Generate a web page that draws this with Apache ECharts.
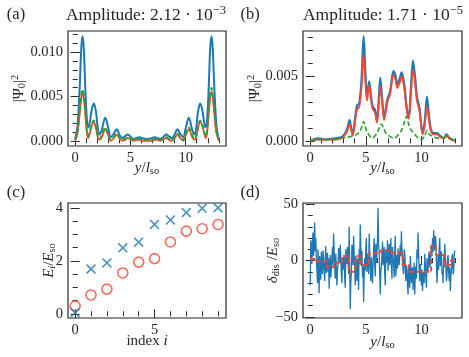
<!DOCTYPE html>
<html>
<head>
<meta charset="utf-8">
<script src="https://cdn.jsdelivr.net/npm/echarts@6/dist/echarts.min.js"></script>
<style>
  html, body { margin: 0; padding: 0; background: #fff; }
  #chart { width: 469px; height: 357px; }
</style>
</head>
<body>
<div id="chart"></div>
<script>
// ---- panel (a): |Psi_0|^2, weak disorder ----
var aX = [0, 0.2, 0.4, 0.55, 0.66, 0.78, 0.92, 1.05, 1.17, 1.3, 1.5, 1.69, 1.88, 2.05, 2.2, 2.4, 2.72, 3.0, 3.23, 3.5,
  3.75, 4.0, 4.25, 4.5, 4.77, 5.05, 5.3, 5.55, 5.8, 6.1, 6.5, 6.9, 7.2, 7.45, 7.7, 7.95, 8.23, 8.5, 8.75, 9.0,
  9.25, 9.5, 9.77, 10.0, 10.28, 10.6, 10.8, 10.95, 11.12, 11.31, 11.5, 11.7, 11.83, 11.95, 12.08, 12.22, 12.34, 12.45, 12.6, 12.8, 13];
var aBlue = [0.0002, 0.0015, 0.0058, 0.0104, 0.0118, 0.0104, 0.0058, 0.0026, 0.0015, 0.0019, 0.0035, 0.0042, 0.0033, 0.0014, 0.0007, 0.0012, 0.0026, 0.0014, 0.0004, 0.0008,
  0.0013, 0.0007, 0.0003, 0.0005, 0.0007, 0.0004, 0.0002, 0.0003, 0.0004, 0.0003, 0.0002, 0.0003, 0.0004, 0.0003, 0.0002, 0.0004, 0.0007, 0.0005, 0.0003, 0.0007,
  0.0013, 0.0008, 0.0004, 0.0014, 0.0026, 0.0012, 0.0007, 0.0014, 0.0033, 0.0042, 0.0035, 0.0019, 0.0015, 0.0026, 0.0058, 0.0104, 0.0118, 0.0104, 0.0058, 0.0015, 0.0002];
var aRed = [0.0000, 0.0008, 0.0030, 0.0048, 0.0054, 0.0048, 0.0030, 0.0010, 0.0003, 0.0007, 0.0017, 0.0021, 0.0014, 0.0004, 0.0001, 0.0004, 0.0013, 0.0006, 0.0000, 0.0003,
  0.0007, 0.0003, 0.0000, 0.0001, 0.0003, 0.0001, 0.0000, 0.0001, 0.0001, 0.0000, 0.0000, 0.0000, 0.0001, 0.0001, 0.0000, 0.0001, 0.0003, 0.0001, 0.0000, 0.0003,
  0.0007, 0.0003, 0.0000, 0.0006, 0.0013, 0.0004, 0.0001, 0.0004, 0.0014, 0.0021, 0.0017, 0.0007, 0.0003, 0.0010, 0.0030, 0.0049, 0.0056, 0.0049, 0.0030, 0.0008, 0.0000];
var aGreen = [0.0001, 0.0009, 0.0032, 0.0052, 0.0058, 0.0052, 0.0032, 0.0012, 0.0005, 0.0009, 0.0019, 0.0023, 0.0016, 0.0005, 0.0002, 0.0006, 0.0015, 0.0007, 0.0001, 0.0004,
  0.0008, 0.0004, 0.0001, 0.0002, 0.0004, 0.0002, 0.0001, 0.0002, 0.0002, 0.0001, 0.0001, 0.0001, 0.0002, 0.0002, 0.0001, 0.0002, 0.0004, 0.0002, 0.0001, 0.0004,
  0.0008, 0.0004, 0.0001, 0.0007, 0.0015, 0.0006, 0.0002, 0.0005, 0.0016, 0.0023, 0.0019, 0.0009, 0.0005, 0.0012, 0.0032, 0.0053, 0.0060, 0.0053, 0.0032, 0.0009, 0.0001];

// ---- panel (b): |Psi_0|^2, strong disorder ----
var bX = [0, 0.7, 1.35, 2.25, 2.85, 3.15, 3.35, 3.53, 3.7, 3.82, 4.0, 4.2, 4.4, 4.6, 4.8, 4.95, 5.1, 5.3, 5.45, 5.6,
  5.82, 6.0, 6.15, 6.3, 6.45, 6.64, 6.94, 7.18, 7.48, 7.65, 7.83, 8.05, 8.22, 8.35, 8.48, 8.72, 8.87, 9.05, 9.24, 9.42,
  9.6, 9.83, 10.1, 10.3, 10.5, 10.65, 10.85, 11.08, 11.4, 11.67, 12.0, 12.26, 12.5, 12.7, 13];
var bBlue = [0.0000, 0.0002, 0.0001, 0.0002, 0.0003, 0.0006, 0.0010, 0.0016, 0.0009, 0.0005, 0.0015, 0.0027, 0.0029, 0.0045, 0.0081, 0.0055, 0.0034, 0.0046, 0.0036, 0.0027,
  0.0024, 0.0016, 0.0030, 0.0049, 0.0035, 0.0018, 0.0032, 0.0038, 0.0054, 0.0051, 0.0044, 0.0048, 0.0053, 0.0049, 0.0042, 0.0023, 0.0019, 0.0040, 0.0062, 0.0050,
  0.0034, 0.0025, 0.0006, 0.0015, 0.0034, 0.0022, 0.0009, 0.0006, 0.0006, 0.0004, 0.0002, 0.0005, 0.0002, 0.0001, 0.0000];
var bRed = [0.0000, 0.0001, 0.0001, 0.0001, 0.0002, 0.0005, 0.0008, 0.0013, 0.0008, 0.0004, 0.0013, 0.0024, 0.0026, 0.0040, 0.0067, 0.0048, 0.0031, 0.0043, 0.0033, 0.0025,
  0.0022, 0.0014, 0.0026, 0.0042, 0.0031, 0.0016, 0.0030, 0.0036, 0.0051, 0.0048, 0.0041, 0.0045, 0.0050, 0.0046, 0.0039, 0.0021, 0.0017, 0.0036, 0.0055, 0.0045,
  0.0031, 0.0023, 0.0005, 0.0012, 0.0027, 0.0018, 0.0008, 0.0005, 0.0005, 0.0003, 0.0002, 0.0004, 0.0002, 0.0001, 0.0000];
var bGreenX = [0, 1, 2, 2.8, 3.5, 4.2, 4.5, 4.65, 4.8, 4.95, 5.1, 5.6, 6.0, 6.2, 6.39, 6.6, 6.8, 7.5, 8.2, 8.45,
  8.65, 8.85, 9.1, 10.0, 10.3, 10.5, 10.7, 11.5, 12.3, 13];
var bGreen = [0.0000, 0.0001, 0.0001, 0.0002, 0.0003, 0.0005, 0.0008, 0.0011, 0.0015, 0.0011, 0.0007, 0.0002, 0.0006, 0.0010, 0.0013, 0.0010, 0.0006, 0.0002, 0.0008, 0.0014,
  0.0019, 0.0013, 0.0008, 0.0001, 0.0004, 0.0008, 0.0005, 0.0002, 0.0003, 0.0000];

// ---- panel (c): energies E_i / E_so ----
var cIndex = [0, 1, 2, 3, 4, 5, 6, 7, 8, 9];
var cCross = [0.04, 1.69, 1.92, 2.49, 2.70, 3.37, 3.54, 3.82, 3.98, 4.00];
var cCircle = [0.29, 0.71, 0.93, 1.54, 1.95, 2.08, 2.71, 3.12, 3.21, 3.37];

// ---- panel (d): disorder potential, sampled every dStep in y/l_so ----
var dStep = 0.05;
var dNoise = [
  -22, 18, 12, -3, 16, 25, 4, 14, 34, 8, 20, 2, -8, -20, 10, -6, -29, 4, -6, -17,
  8, -2, -12, 9, 3, -9, -18, 0, 13, -11, -2, 7, -10, 2, -25, -6, 5, -15, -8, 3,
  12, -4, 24, 10, -5, -16, 6, -8, -22, -9, -4, 11, 9, -2, 14, 3, -12, -20, 3, -6,
  -8, 5, -15, -24, 10, -1, -3, 12, 5, -12, 30, -6, -43, -20, -10, 14, 8, -4, 22, 6,
  -6, -22, 4, -9, -18, 2, -7, -26, 10, -3, 32, 12, -5, 9, -15, -5, -37, -14, 2, -9,
  12, 20, -10, -2, 6, -12, 24, 8, -8, -18, 3, -6, -20, -4, 9, 20, -4, -14, 15, -2,
  6, 20, 47, 14, 8, -12, -30, -10, -5, 6, 17, -4, 2, 12, -12, -22, 10, -2, 4, 18,
  -9, 2, 15, -4, 7, 20, -6, -16, 12, 2, -3, -15, 9, 22, -14, -4, 5, -7, 11, 2,
  -4, 6, 14, 4, 26, 10, 3, -8, -12, 10, 6, -6, -18, -4, -8, -22, -30, -4, -12, -24,
  4, -6, -20, -10, -6, -26, -14, -2, -30, -12, -5, -16, 10, 2, 25, 6, -8, -18, -3, -12,
  -22, -8, -27, -14, -10, -20, 6, -4, -15, -24, 2, -10, -8, 4, 8, -6, -2, 6, 14, 4,
  20, 8, 27, 16, 9, 22, 18, -2, -20, -6, 4, -8, 12, 20, -5, 6, 8, -12, -10, -20,
  3, -6, 15, 2, -6, -18, -14, 2, 5, -10, -18, -6, -27, -14, -8, 4, 6, -12, -10, 4,
  9];
var dStepX = [0, 0.55, 1.52, 2.12, 2.87, 3.47, 4.07, 4.52, 5.27, 6.33, 7.24, 8.3, 8.9, 10.87, 11.3, 12.05, 12.65, 13];
var dStepY = [1.5, -0.6, -6, -2, 4, -10, 4, -4, 6.5, 9, 7, -4, -10, 13, 5, -4, 0, 0];

// ---- ticks ----
var xMajor13 = [0, 5, 10];
var xMinor13 = [1, 2, 3, 4, 6, 7, 8, 9, 11, 12, 13];
var aYMajor = [0, 0.005, 0.01];
var aYMinor = [0.001, 0.002, 0.003, 0.004, 0.006, 0.007, 0.008, 0.009, 0.011, 0.012];
var bYMajor = [0, 0.005];
var bYMinor = [0.001, 0.002, 0.003, 0.004, 0.006, 0.007, 0.008];
var cXMajor = [0, 5];
var cXMinor = [1, 2, 3, 4, 6, 7, 8, 9];
var cYMajor = [0, 2, 4];
var cYMinor = [0.5, 1, 1.5, 2.5, 3, 3.5];
var dYMajor = [-50, 0, 50];
var dYMinor = [-40, -30, -20, -10, 10, 20, 30, 40];

var FONT = '"Liberation Serif", "DejaVu Serif", serif';
var INK = '#262626';
var BLUE = '#1f77b4', RED = '#f04a32', GREEN = '#2ca02c';

var rich = {
  rm: { fontFamily: FONT, fontSize: 15, lineHeight: 18, color: INK },
  it: { fontFamily: FONT, fontSize: 15, fontStyle: 'italic', lineHeight: 18, color: INK },
  sub: { fontFamily: FONT, fontSize: 10.5, verticalAlign: 'bottom', color: INK },
  isub: { fontFamily: FONT, fontSize: 10.5, fontStyle: 'italic', verticalAlign: 'bottom', color: INK },
  sup: { fontFamily: FONT, fontSize: 10.5, verticalAlign: 'top', color: INK }
};

function fix3(v) { return v.toFixed(3); }
function plain(v) { return v < 0 ? '\u2212' + Math.abs(v) : String(v); }

var yl = '{it|y}{rm|/}{it|l}{sub|so}';
var psi = '{rm||\u03A8}{sub|0}{rm||}{sup|2}';

var panels = [
  { box: [68, 31, 158, 115], x: [-0.65, 13.65], y: [-0.00059, 0.01239], xMajor: xMajor13, xMinor: xMinor13,
    yMajor: aYMajor, yMinor: aYMinor, yFmt: fix3, xName: yl, yName: psi, xGap: 13, yGap: 40 },
  { box: [303, 31, 159, 115], x: [-0.65, 13.65], y: [-0.0004, 0.0085], xMajor: xMajor13, xMinor: xMinor13,
    yMajor: bYMajor, yMinor: bYMinor, yFmt: fix3, xName: yl, yName: psi, xGap: 13, yGap: 39 },
  { box: [68, 203, 158, 115], x: [-0.45, 9.5], y: [-0.16, 4.18], xMajor: cXMajor, xMinor: cXMinor,
    yMajor: cYMajor, yMinor: cYMinor, yFmt: plain, xName: '{rm|index }{it|i}',
    yName: '{it|E}{isub|i}{rm|/}{it|E}{sub|so}', xGap: 14, yGap: 10 },
  { box: [303, 203, 159, 115], x: [-0.65, 13.65], y: [-51, 51.2], xMajor: xMajor13, xMinor: xMinor13,
    yMajor: dYMajor, yMinor: dYMinor, yFmt: plain, xName: yl,
    yName: '{it|\u03B4}{sub|dis}{rm| /}{it|E}{sub|so}', xGap: 15, yGap: 21 }
];

function axis(grid, pos, range, ticks, len, fmt, name, gap) {
  var a = {
    type: 'value', gridIndex: grid, position: pos, min: range[0], max: range[1],
    axisLine: { show: false }, splitLine: { show: false },
    axisTick: { show: true, inside: true, length: len, customValues: ticks, lineStyle: { color: INK, width: 1 } },
    axisLabel: { show: !!fmt, customValues: ticks, formatter: fmt, margin: 5,
      fontFamily: FONT, fontSize: 14.5, color: INK }
  };
  if (name) {
    a.name = name;
    a.nameLocation = 'middle';
    a.nameGap = gap;
    a.nameMoveOverlap = false;
    a.nameTextStyle = { rich: rich };
  }
  return a;
}

var grids = [], xAxes = [], yAxes = [];
panels.forEach(function (p, k) {
  grids.push({ left: p.box[0], top: p.box[1], width: p.box[2], height: p.box[3],
    show: true, borderColor: INK, borderWidth: 1.2 });
  xAxes.push(axis(k, 'bottom', p.x, p.xMajor, 4.5, plain, p.xName, p.xGap));
  xAxes.push(axis(k, 'bottom', p.x, p.xMinor, 2.5));
  xAxes.push(axis(k, 'top', p.x, p.xMajor, 4.5));
  xAxes.push(axis(k, 'top', p.x, p.xMinor, 2.5));
  yAxes.push(axis(k, 'left', p.y, p.yMajor, 4.5, p.yFmt, p.yName, p.yGap));
  yAxes.push(axis(k, 'left', p.y, p.yMinor, 2.5));
  yAxes.push(axis(k, 'right', p.y, p.yMajor, 4.5));
  yAxes.push(axis(k, 'right', p.y, p.yMinor, 2.5));
});

function zip(xs, ys) { return xs.map(function (x, i) { return [x, ys[i]]; }); }

function curve(k, xs, ys, color, width, dash, smooth, step) {
  return {
    type: 'line', xAxisIndex: k * 4, yAxisIndex: k * 4, data: zip(xs, ys),
    symbol: 'none', smooth: smooth || false, step: step || false,
    lineStyle: { color: color, width: width, type: dash || 'solid' }
  };
}

var crossPath = 'path://M1.15,0L5,3.85L8.85,0L10,1.15L6.15,5L10,8.85L8.85,10L5,6.15L1.15,10L0,8.85L3.85,5L0,1.15Z';

var series = [
  curve(0, aX, aBlue, BLUE, 2, null, 0.35),
  curve(0, aX, aRed, RED, 1.8, null, 0.35),
  curve(0, aX, aGreen, GREEN, 1.8, [5, 2.5], 0.35),
  curve(1, bX, bBlue, BLUE, 2.2, null, 0.3),
  curve(1, bX, bRed, RED, 1.8, null, 0.3),
  curve(1, bGreenX, bGreen, GREEN, 1.6, [5, 2.5], 0.3),
  {
    type: 'scatter', xAxisIndex: 8, yAxisIndex: 8, data: zip(cIndex, cCircle),
    symbol: 'circle', symbolSize: 10,
    itemStyle: { color: 'transparent', borderColor: RED, borderWidth: 1.6 }
  },
  {
    type: 'scatter', xAxisIndex: 8, yAxisIndex: 8, data: zip(cIndex, cCross),
    symbol: crossPath, symbolSize: 10,
    itemStyle: { color: BLUE }
  },
  curve(3, dNoise.map(function (v, i) { return i * dStep; }), dNoise, BLUE, 1.3),
  curve(3, dStepX, dStepY, RED, 2, [5, 2.5], false, 'end')
];

function label(x, y, text) {
  return { type: 'text', x: x, y: y, style: { text: text, font: '16.5px ' + FONT, fill: INK,
    align: 'center', verticalAlign: 'middle' } };
}
var titleRich = {
  t: { fontFamily: FONT, fontSize: 17.5, lineHeight: 22, fill: INK },
  s: { fontFamily: FONT, fontSize: 12.5, verticalAlign: 'top', fill: INK }
};
function title(x, text) {
  return { type: 'text', x: x, y: 15, style: { text: text, rich: titleRich, fill: INK,
    align: 'center', verticalAlign: 'middle' } };
}

var chart = echarts.init(document.getElementById('chart'), null, { renderer: 'canvas' });
chart.setOption({
  animation: false,
  backgroundColor: '#fff',
  grid: grids,
  xAxis: xAxes,
  yAxis: yAxes,
  series: series,
  graphic: [
    label(16, 15, '(a)'),
    label(250, 15, '(b)'),
    label(16, 193, '(c)'),
    label(250, 193, '(d)'),
    title(146, '{t|Amplitude: 2.12 \u00B7 10}{s|\u22123}'),
    title(383, '{t|Amplitude: 1.71 \u00B7 10}{s|\u22125}')
  ]
});
</script>
</body>
</html>
